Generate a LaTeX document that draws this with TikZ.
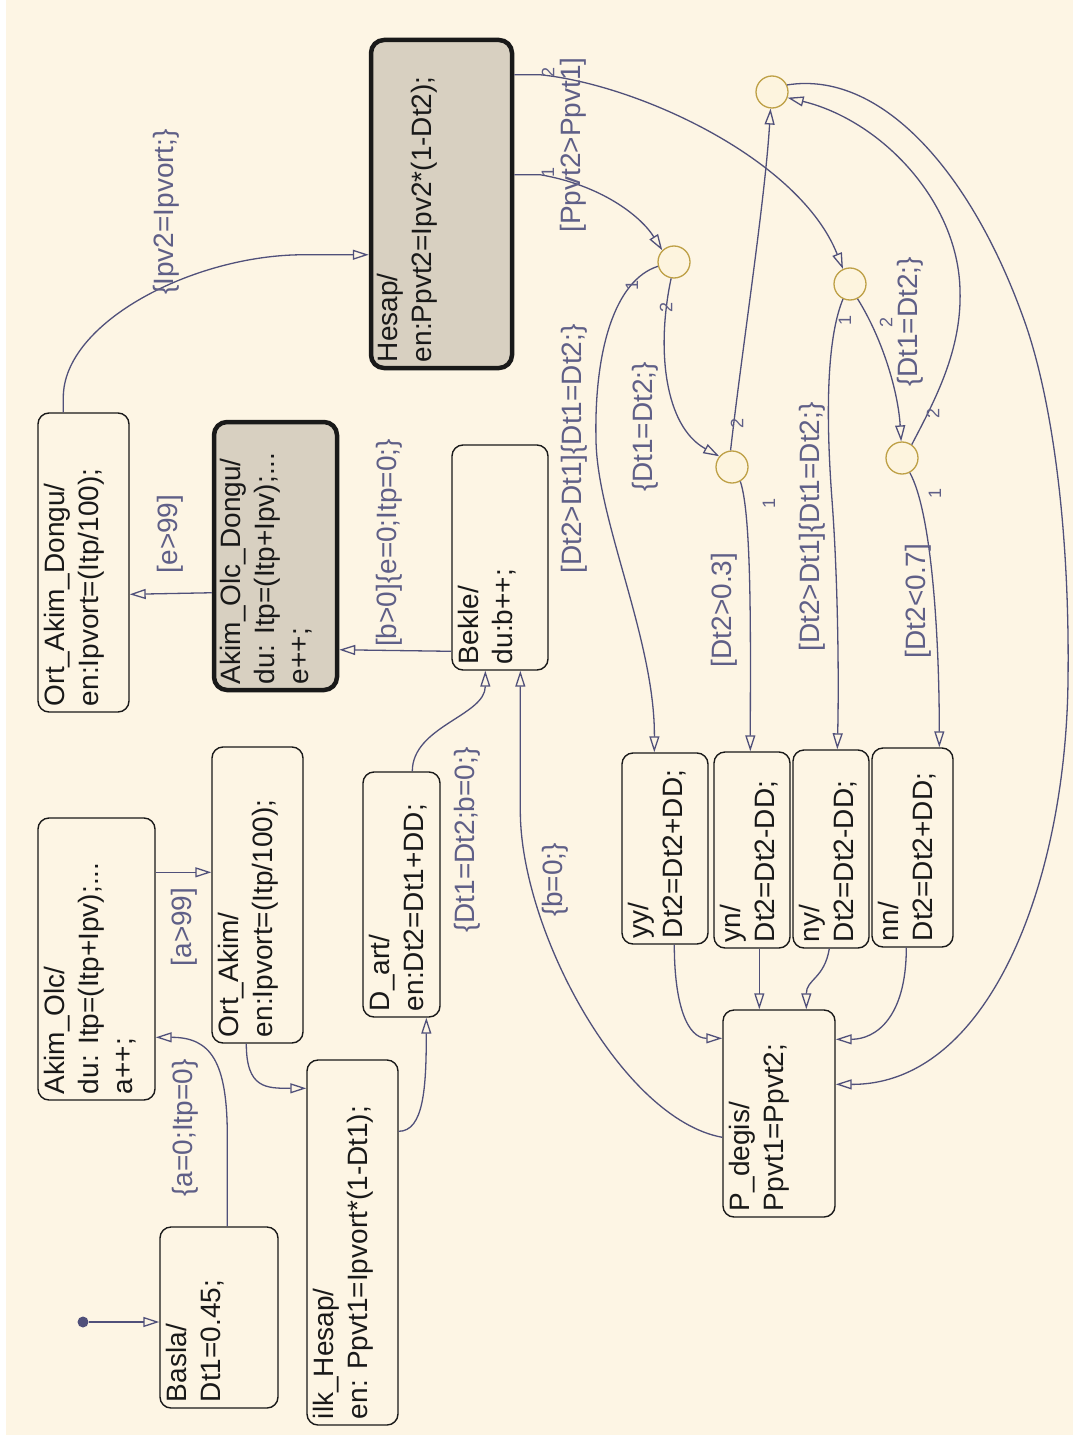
\documentclass[tikz,border=0pt]{standalone}
\usepackage{fontspec}
\setmainfont{Liberation Sans}
\usepackage{graphicx}
\usetikzlibrary{arrows.meta,calc}

\definecolor{paper}{RGB}{253,245,228}
\definecolor{shade}{RGB}{216,208,193}
\definecolor{wire}{RGB}{80,80,122}
\definecolor{cond}{RGB}{95,95,135}
\definecolor{ink}{RGB}{25,25,25}
\definecolor{jring}{RGB}{190,160,70}
\definecolor{jfill}{RGB}{253,244,222}

% state text: rotated block, first line at the box's long edge
\newcommand{\boxtxt}[3]{\rotatebox{90}{\begin{minipage}[b][#2][t]{#1}\raggedright\fontsize{28}{34}\selectfont #3\end{minipage}}}

\tikzset{
  state/.style={draw=ink, line width=1.4pt, rounded corners=11pt, fill=paper, inner sep=0pt, text=ink},
  busy/.style={state, line width=4.5pt, fill=shade, rounded corners=13pt},
  junc/.style={circle, draw=jring, fill=jfill, line width=1.3pt, minimum size=32pt, inner sep=0pt},
  tr/.style={draw=wire, line width=1.3pt, -{Triangle[open, length=16pt, width=10pt, line width=1.3pt]}},
  lbl/.style={rotate=90, text=cond, font=\fontsize{28}{34}\selectfont, inner sep=0pt},
  num/.style={rotate=90, text=cond, font=\fontsize{18}{20}\selectfont, inner sep=0pt},
}

\begin{document}
\begin{tikzpicture}[x=1pt,y=-1pt]
\useasboundingbox (0,0) rectangle (1073,1439);
\fill[white] (0,0) rectangle (1073,1439);
\fill[paper] (6,0) rectangle (1073,1435);

% ---- states ----
\node[state, minimum width=118pt, minimum height=181pt] (basla) at (219,1317.5) {\boxtxt{169pt}{106pt}{Basla/\\Dt1=0.45;}};
\node[state, minimum width=117pt, minimum height=282pt] (akimolc) at (96.5,959) {\boxtxt{270pt}{105pt}{Akim\_Olc/\\du: Itp=(Itp+Ipv);...\\a++;}};
\node[state, minimum width=91pt, minimum height=296pt] (ortakim) at (257.5,895) {\boxtxt{284pt}{79pt}{Ort\_Akim/\\en:Ipvort=(Itp/100);}};
\node[state, minimum width=91pt, minimum height=365pt] (ilkhesap) at (352.5,1242.5) {\boxtxt{353pt}{79pt}{ilk\_Hesap/\\en: Ppvt1=Ipvort*(1-Dt1);}};
\node[state, minimum width=77pt, minimum height=245pt] (dart) at (401.5,894.5) {\boxtxt{233pt}{65pt}{D\_art/\\en:Dt2=Dt1+DD;}};
\node[state, minimum width=96pt, minimum height=225pt] (bekle) at (500,557.5) {\boxtxt{213pt}{84pt}{Bekle/\\du:b++;}};
\node[busy, minimum width=123pt, minimum height=268pt] (aod) at (275.5,556) {\boxtxt{256pt}{111pt}{Akim\_Olc\_Dongu/\\du: Itp=(Itp+Ipv);...\\e++;}};
\node[state, minimum width=91pt, minimum height=299pt] (oad) at (83.5,562.5) {\boxtxt{287pt}{79pt}{Ort\_Akim\_Dongu/\\en:Ipvort=(Itp/100);}};
\node[busy, minimum width=141pt, minimum height=328pt] (hesap) at (441.5,204) {\boxtxt{316pt}{129pt}{Hesap/\\en:Ppvt2=Ipv2*(1-Dt2);}};

\node[state, minimum width=86pt, minimum height=191pt] (yy) at (665,848.5) {\boxtxt{179pt}{74pt}{yy/\\Dt2=Dt2+DD;}};
\node[state, minimum width=76pt, minimum height=196pt] (yn) at (752,850) {\boxtxt{184pt}{64pt}{yn/\\Dt2=Dt2-DD;}};
\node[state, minimum width=76pt, minimum height=198pt] (ny) at (831,849) {\boxtxt{186pt}{64pt}{ny/\\Dt2=Dt2-DD;}};
\node[state, minimum width=81pt, minimum height=199pt] (nn) at (912.5,847.5) {\boxtxt{187pt}{69pt}{nn/\\Dt2=Dt2+DD;}};
\node[state, minimum width=112pt, minimum height=207pt] (pdegis) at (779,1113.5) {\boxtxt{195pt}{100pt}{P\_degis/\\Ppvt1=Ppvt2;}};

% ---- junctions ----
\node[junc] (jtop) at (772,92) {};
\node[junc] (j1) at (674,262) {};
\node[junc] (j2) at (850,284) {};
\node[junc] (j3) at (732,467) {};
\node[junc] (j4) at (902,458) {};

% ---- default transition ----
\node[circle, fill=wire, minimum size=11pt, inner sep=0pt] (init) at (83,1322) {};
\draw[tr] (init) -- (init -| basla.west);

% ---- left column ----
\draw[tr] ($(basla.north west)+(68,0)$) -- ++(0,-90) .. controls +(0,-75) and +(55,0) .. ($(akimolc.north east)+(0,220)$);
\draw[tr] ($(akimolc.north east)+(0,55)$) -- ($(ortakim.north west)+(0,126)$);
\draw[tr] ($(ortakim.south west)+(35,0)$) .. controls +(0,45) and +(-40,0) .. ($(ilkhesap.north west)+(0,29)$);
\draw[tr] ($(ilkhesap.north east)+(0,72)$) .. controls +(25,0) and +(0,70) .. ($(dart.south west)+(64,0)$);
\draw[tr] ($(dart.north west)+(50,0)$) .. controls +(0,-45) and +(0,45) .. ($(bekle.south west)+(34,0)$);
\draw[tr] ($(pdegis.north west)+(0,128)$) .. controls +(-100,-18) and +(0,120) .. ($(bekle.south west)+(69,140)$) -- ($(bekle.south west)+(69,0)$);
\draw[tr] ($(bekle.north west)+(0,207)$) -- ($(aod.north east)+(0,230)$);
\draw[tr] ($(aod.north west)+(0,173)$) -- ($(oad.north east)+(0,182)$);
\draw[tr] ($(oad.north west)+(26,0)$) -- ++(0,-15) .. controls +(0,-75) and +(-110,0) .. ($(hesap.north west)+(-65,217)$) -- ($(hesap.north west)+(0,217)$);

% ---- Hesap exits ----
\draw[tr] ($(hesap.north east)+(0,137)$) -- ++(26,0) .. controls (600,185) and (640,215) .. (j1.135);
\draw[tr] ($(hesap.north east)+(0,37)$) -- ++(26,0) .. controls (640,85) and (800,160) .. (j2.115);

% ---- junction branches ----
\draw[tr] (j1.195) .. controls (615,280) and (594,350) .. (596,440) .. controls (597,520) and (655,640) .. ($(yy.north west)+(33,0)$);
\draw[tr] (j1.260) .. controls +(-15,70) and +(-55,-30) .. (j3.140);
\draw[tr] (j3.300) .. controls +(12,35) and +(0,-100) .. ($(yn.north west)+(37,0)$);
\draw[tr] (j3.95) .. controls (742,350) and (765,200) .. (jtop.265);
\draw[tr] (j2.245) .. controls (826,340) and (826,420) .. (832,500) .. controls (838,580) and (839,680) .. ($(ny.north west)+(45,0)$);
\draw[tr] (j2.297) .. controls +(25,40) and +(-3,-50) .. (j4.93);
\draw[tr] (j4.298) .. controls +(22,40) and +(0,-110) .. ($(nn.north west)+(68,0)$);
\draw[tr] (j4.54) .. controls (935,400) and (962,350) .. (960,290) .. controls (958,200) and (880,120) .. (jtop.-20);
\draw[tr] (jtop.25) .. controls (880,70) and (970,170) .. (1023,317) .. controls (1050,390) and (1070,520) .. (1068,680) .. controls (1066,880) and (990,1085) .. ($(pdegis.north east)+(0,75)$);

% ---- into P_degis ----
\draw[tr] ($(yy.south west)+(53,0)$) .. controls +(0,60) and +(-35,0) .. ($(pdegis.north west)+(0,29)$);
\draw[tr] ($(yn.south west)+(46,0)$) -- ($(pdegis.north west)+(37,0)$);
\draw[tr] ($(ny.south west)+(37,0)$) .. controls +(-5,30) and +(0,-30) .. ($(pdegis.north west)+(84,0)$);
\draw[tr] ($(nn.south west)+(35,0)$) .. controls +(0,70) and +(40,0) .. ($(pdegis.north east)+(0,30)$);

% ---- transition labels ----
\node[lbl] (la0) at (185,1128) {\{a=0;Itp=0\}};
\node[lbl] (la99) at (184,927) {[a>99]};
\node[lbl] (le99) at (170,534) {[e>99]};
\node[lbl] (lb0) at (389,543) {[b>0]\{e=0;Itp=0;\}};
\node[lbl] (lipv) at (166,212) {\{Ipv2=Ipvort;\}};
\node[lbl] (ldt) at (467,840) {\{Dt1=Dt2;b=0;\}};
\node[lbl] (lbz) at (555,880) {\{b=0;\}};
\node[lbl] (lpp) at (573,145) {[Ppvt2>Ppvt1]};
\node[lbl] (lg1) at (574,449) {[Dt2>Dt1]\{Dt1=Dt2;\}};
\node[lbl] (lc1) at (645,427) {\{Dt1=Dt2;\}};
\node[lbl] (l03) at (724,610) {[Dt2>0.3]};
\node[lbl] (lg2) at (812,527) {[Dt2>Dt1]\{Dt1=Dt2;\}};
\node[lbl] (lc2) at (910,322) {\{Dt1=Dt2;\}};
\node[lbl] (l07) at (918,601) {[Dt2<0.7]};

% ---- execution order numbers ----
\node[num] (nh2) at (548,72) {2};
\node[num] (nh1) at (548,172) {1};
\node[num] (n11) at (632,285) {1};
\node[num] (n12) at (666,307) {2};
\node[num] (n32) at (737,423) {2};
\node[num] (n31) at (769,503) {1};
\node[num] (n21) at (845,320) {1};
\node[num] (n22) at (886,322) {2};
\node[num] (n42) at (933,413) {2};
\node[num] (n41) at (935,493) {1};
\end{tikzpicture}
\end{document}
